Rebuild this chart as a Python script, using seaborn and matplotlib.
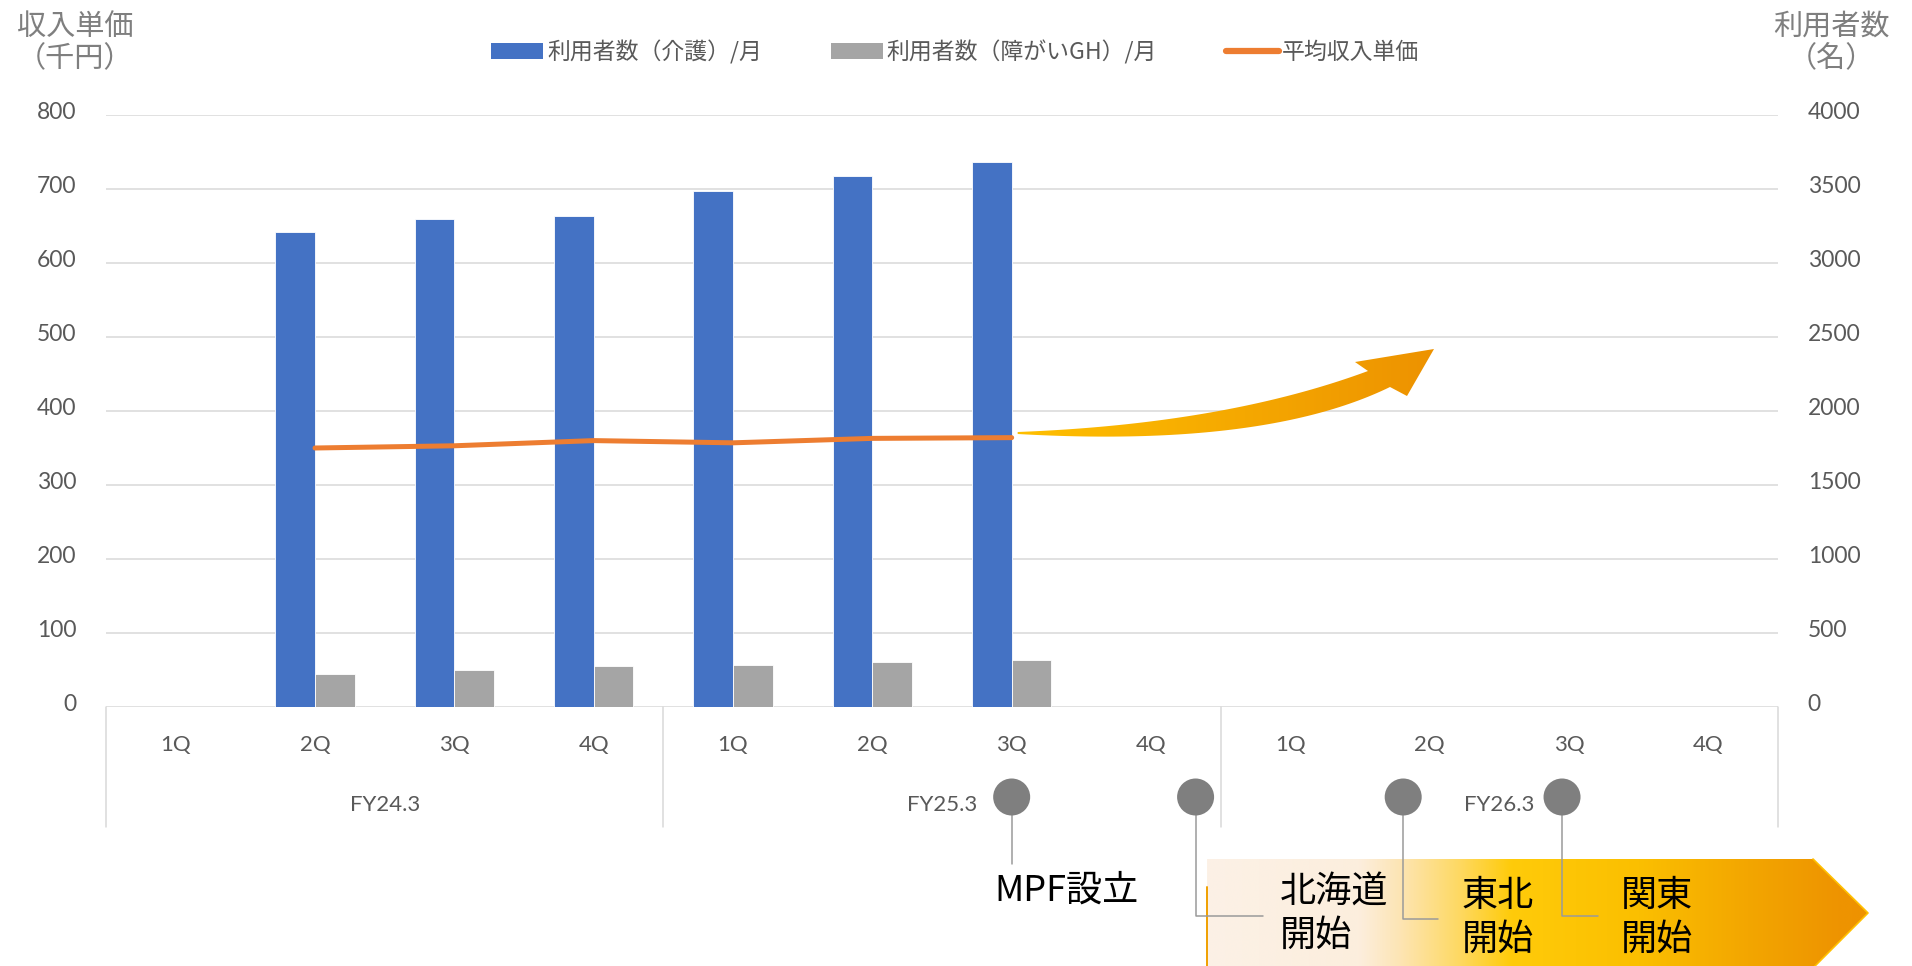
import numpy as np
import pandas as pd
import matplotlib
matplotlib.use("Agg")
import matplotlib.pyplot as plt
from matplotlib.patches import Patch, Circle, PathPatch
from matplotlib.lines import Line2D
from matplotlib.path import Path
from matplotlib.colors import LinearSegmentedColormap
from matplotlib.transforms import ScaledTranslation
import seaborn as sns

# ---- data -------------------------------------------------------------
fiscal_years = ["FY24.3", "FY25.3", "FY26.3"]
quarters = ["1Q", "2Q", "3Q", "4Q"]
periods = ["FY24.3 2Q", "FY24.3 3Q", "FY24.3 4Q",
           "FY25.3 1Q", "FY25.3 2Q", "FY25.3 3Q"]
users_care = [3210, 3300, 3320, 3485, 3585, 3685]      # 利用者数（介護）/月
users_gh = [225, 252, 274, 286, 301, 318]              # 利用者数（障がいGH）/月
avg_unit_price = [350, 353, 360, 357, 363, 364]        # 平均収入単価（千円）

label_care = "利用者数（介護）/月"
label_gh = "利用者数（障がいGH）/月"
label_price = "平均収入単価"

milestones = ["MPF設立", "北海道\n開始", "東北\n開始", "関東\n開始"]
milestone_cat = [6.0, 7.32, 8.81, 9.95]   # timing on the quarter axis

# ---- style ------------------------------------------------------------
BLUE, GRAY, ORANGE = "#4472C4", "#A5A5A5", "#ED7D31"
GRID = "#D9D9D9"
TXT = "#595959"
W, H = 1912, 966

sns.set_theme(style="white")
plt.rcParams["font.family"] = ["Noto Sans CJK JP", "DejaVu Sans"]
NUM_FONT = ["Lato", "DejaVu Sans"]
JP_FONT = ["Noto Sans CJK JP", "DejaVu Sans"]

fig = plt.figure(figsize=(W / 100, H / 100), dpi=100)
ax = fig.add_axes([106 / W, (H - 707) / H, (1778 - 106) / W, 592 / H])

order = [f"{fy} {q}" for fy in fiscal_years for q in quarters]

bars_df = pd.DataFrame({
    "period": periods * 2,
    "series": [label_care] * len(periods) + [label_gh] * len(periods),
    "users": users_care + users_gh,
})
sns.barplot(data=bars_df, x="period", y="users", hue="series", order=order,
            hue_order=[label_care, label_gh], palette=[BLUE, GRAY],
            saturation=1, width=0.57, edgecolor="white", linewidth=0.6,
            legend=False, ax=ax)

ax2 = ax.twinx()
line_df = pd.DataFrame({"pos": [order.index(p) for p in periods],
                        "price": avg_unit_price})
sns.lineplot(data=line_df, x="pos", y="price", ax=ax2, color=ORANGE,
             linewidth=3.6, solid_capstyle="round")

# right axis: users (bars)
ax.set_ylim(0, 4000)
ax.set_yticks(np.arange(0, 4001, 500))
ax.yaxis.tick_right()
ax.yaxis.set_label_position("right")
ax.tick_params(axis="y", which="both", left=False, right=False,
               labelleft=False, labelright=True, length=0, pad=21.5,
               labelsize=16.5, labelcolor=TXT)
ax.grid(axis="y", color=GRID, linewidth=1.1)
ax.grid(axis="x", visible=False)
ax.set_axisbelow(True)

# left axis: unit price (line)
ax2.set_ylim(0, 800)
ax2.set_yticks(np.arange(0, 801, 100))
ax2.yaxis.tick_left()
ax2.yaxis.set_label_position("left")
ax2.tick_params(axis="y", which="both", left=False, right=False,
                labelleft=True, labelright=False, length=0, pad=21.5,
                labelsize=16.5, labelcolor=TXT)

lift = ScaledTranslation(0, 3 / 72, fig.dpi_scale_trans)
for a in (ax, ax2):
    for s in a.spines.values():
        s.set_visible(False)
    a.set_xlabel("")
    a.set_ylabel("")
    a.set_xticks([])
    for t in a.get_yticklabels():
        t.set_fontfamily(NUM_FONT)
        t.set_transform(t.get_transform() + lift)
ax.set_xlim(-0.5, len(order) - 0.5)

# ---- overlay in pixel coordinates (top-left origin) -------------------
ov = fig.add_axes([0, 0, 1, 1])
ov.set_xlim(0, W)
ov.set_ylim(H, 0)
ov.axis("off")
ov.set_zorder(10)
ov.patch.set_visible(False)


def px(cat):
    return ax.transData.transform((cat, 0))[0]


y0 = H - ax.transData.transform((0, 0))[1]

# two-level category axis
for i, key in enumerate(order):
    ov.text(px(i), 745, key.split()[1], ha="center", va="center",
            fontsize=16, color=TXT, family=NUM_FONT)
for k, fy in enumerate(fiscal_years):
    ov.text(px(4 * k + 1.5), 805, fy, ha="center", va="center",
            fontsize=16, color=TXT, family=NUM_FONT)
for b in [-0.5, 3.5, 7.5, 11.5]:
    ov.plot([px(b), px(b)], [y0, 827], color=GRID, lw=1.1)

# axis titles
ov.text(75, 43, "収入単価\n（千円）", ha="center", va="center", fontsize=21,
        color="#7F7F7F", linespacing=1.1, family=JP_FONT)
ov.text(1831, 43, "利用者数\n（名）", ha="center", va="center", fontsize=21,
        color="#7F7F7F", linespacing=1.1, family=JP_FONT)

# legend
handles = [Patch(facecolor=BLUE, edgecolor="none"),
           Patch(facecolor=GRAY, edgecolor="none"),
           Line2D([0], [0], color=ORANGE, lw=4.5, solid_capstyle="round")]
fig.legend(handles, [label_care, label_gh, label_price], loc="center",
           bbox_to_anchor=(955 / W, 1 - 52 / H), ncol=3, frameon=False,
           fontsize=16.5, handlelength=2.3, handleheight=0.7,
           handletextpad=0.15, columnspacing=3.0, labelcolor=TXT)


def bezier(p0, p1, p2, n=60):
    t = np.linspace(0, 1, n)[:, None]
    p0, p1, p2 = map(np.asarray, (p0, p1, p2))
    return (1 - t) ** 2 * p0 + 2 * (1 - t) * t * p1 + t ** 2 * p2


def gradient_fill(verts, x0, x1, stops, zorder=1):
    cmap = LinearSegmentedColormap.from_list("g", stops)
    path = Path(np.vstack([verts, verts[:1]]), closed=True)
    patch = PathPatch(path, transform=ov.transData, facecolor="none",
                      edgecolor="none")
    ov.add_patch(patch)
    ys = verts[:, 1]
    im = ov.imshow(np.linspace(0, 1, 512).reshape(1, -1), cmap=cmap,
                   extent=(x0, x1, ys.max(), ys.min()), aspect="auto",
                   interpolation="bicubic", zorder=zorder)
    im.set_clip_path(patch)
    ov.set_xlim(0, W)
    ov.set_ylim(H, 0)


# growth arrow continuing the unit-price trend from the latest quarter
tail_x = px(order.index(periods[-1]))
top = bezier((tail_x + 6, 432), (1225, 424), (1368, 371))
bot = bezier((1390, 387), (1265, 448), (tail_x + 6, 434))
head = np.array([(1355, 362), (1434, 349), (1407, 396)])
arrow = np.vstack([top, head, bot])
gradient_fill(arrow, tail_x, 1434,
              [(0, "#FFC000"), (0.55, "#F5A800"), (1, "#ED9200")], zorder=3)

# regional roll-out banner
banner = np.array([(1207, 859), (1813, 859), (1868, 913), (1813, 968),
                   (1207, 968)])
gradient_fill(banner, 1207, 1868,
              [(0.0, "#FCF1E6"), (0.23, "#FCEEDD"), (0.29, "#FDE5B5"),
               (0.38, "#FED964"), (0.46, "#FFCB0A"), (0.655, "#FBBF00"),
               (0.82, "#F3A600"), (0.955, "#EE9400"), (1.0, "#EE9200")],
              zorder=2)
ov.plot([1813, 1868, 1813], [859, 913, 968], color="#FFC000", lw=1.2,
        zorder=2.5)
ov.plot([1207, 1207], [887, 966], color="#F0A000", lw=1.4, zorder=2.5)

# milestone markers with leader lines
LEAD = "#9A9A9A"
xs = [px(c) for c in milestone_cat]
ov.plot([xs[0], xs[0]], [797, 864], color=LEAD, lw=1.1, zorder=4)
ov.plot([xs[1], xs[1], xs[1] + 67], [797, 916, 916], color=LEAD, lw=1.1,
        zorder=4)
ov.plot([xs[2], xs[2], xs[2] + 35], [797, 919, 919], color=LEAD, lw=1.1,
        zorder=4)
ov.plot([xs[3], xs[3], xs[3] + 36], [797, 916, 916], color=LEAD, lw=1.1,
        zorder=4)
for x in xs:
    ov.add_patch(Circle((x, 797), 18.5, facecolor="#7F7F7F",
                        edgecolor="none", zorder=5))

ov.text(xs[0] + 55, 891, milestones[0], ha="center", va="center",
        fontsize=26, color="black", family=JP_FONT, zorder=6)
ov.text(1280, 914, milestones[1], ha="left", va="center", fontsize=26,
        color="black", linespacing=1.3, family=JP_FONT, zorder=6)
ov.text(1462, 918, milestones[2], ha="left", va="center", fontsize=26,
        color="black", linespacing=1.3, family=JP_FONT, zorder=6)
ov.text(1621, 918, milestones[3], ha="left", va="center", fontsize=26,
        color="black", linespacing=1.3, family=JP_FONT, zorder=6)

fig.savefig("out.png", dpi=100)
